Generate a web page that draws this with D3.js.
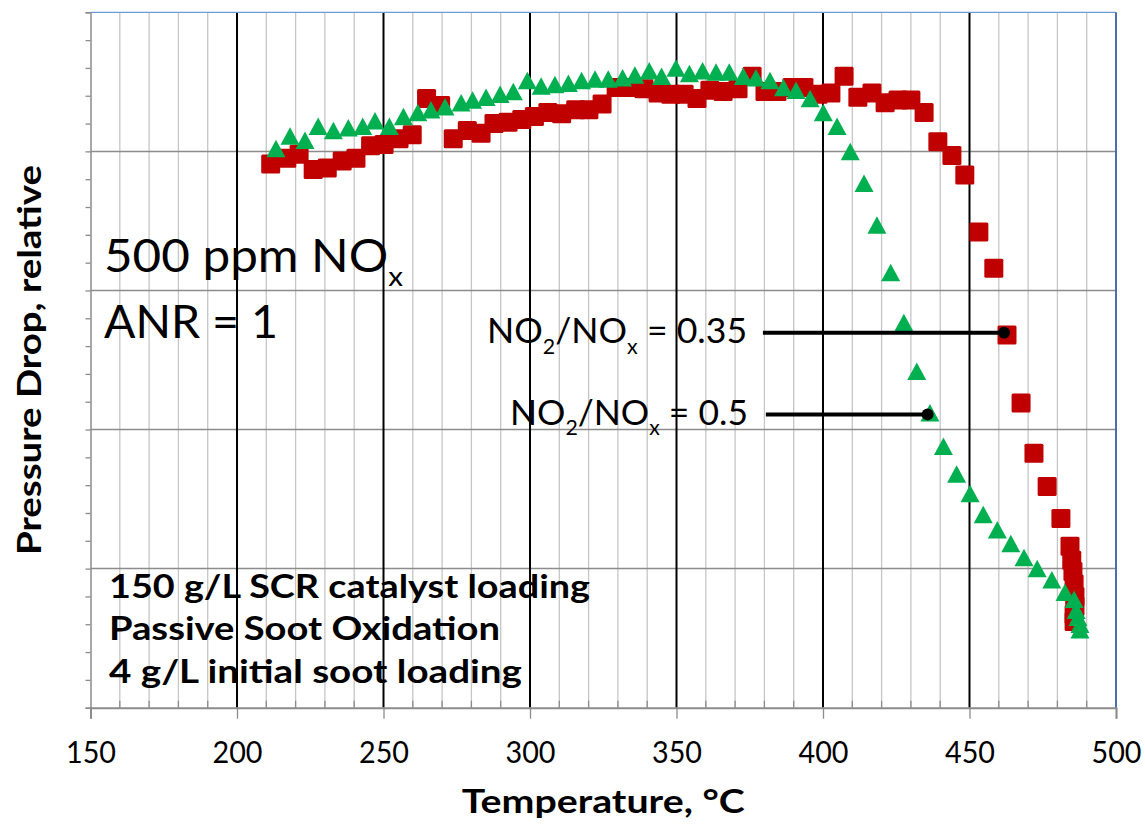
<!DOCTYPE html>
<html><head><meta charset="utf-8">
<script src="https://cdn.jsdelivr.net/npm/d3@7"></script>
<style>
body{margin:0;background:#fff}
svg{display:block}
text{font-family:Lato,'Open Sans',sans-serif;fill:#000}
</style>
</head><body>
<svg id="c" width="1145" height="824"></svg>
<script>
// ---------- data ----------
const xTicks = [150, 200, 250, 300, 350, 400, 450, 500];
const yMajorTicks = [0, 1, 2, 3, 4, 5];

// NO2/NOx = 0.35 (red squares)
const redTemp = [211.5,217.0,221.2,226.0,230.8,235.9,240.6,245.6,250.2,255.3,259.8,264.7,269.5,273.8,278.6,283.3,287.7,292.5,297.2,301.5,306.1,310.8,315.6,320.1,324.6,329.4,334.1,338.9,343.7,348.1,352.6,357.0,361.4,365.9,371.0,375.8,380.2,384.3,389.4,393.5,398.3,402.7,407.2,411.9,416.7,421.2,425.6,430.0,434.5,439.2,444.0,448.4,453.2,458.3,462.8,467.6,472.0,476.5,481.2,484.3,484.9,485.3,485.7,486.0,486.0,485.7,485.7];
const redDrop = [3.91,3.95,3.98,3.87,3.88,3.93,3.95,4.04,4.05,4.09,4.12,4.38,4.33,4.09,4.15,4.13,4.20,4.21,4.23,4.25,4.28,4.27,4.30,4.30,4.34,4.46,4.46,4.45,4.42,4.41,4.41,4.38,4.44,4.43,4.45,4.54,4.43,4.43,4.46,4.46,4.41,4.42,4.54,4.39,4.42,4.35,4.37,4.37,4.28,4.07,3.97,3.83,3.42,3.16,2.68,2.19,1.83,1.59,1.36,1.16,1.06,0.98,0.89,0.80,0.73,0.67,0.62];

// NO2/NOx = 0.5 (green triangles)
const greenTemp = [213.3,218.1,223.2,227.7,232.9,238.0,242.9,247.1,252.0,256.8,261.7,266.2,271.0,276.5,280.4,285.0,289.8,294.3,299.1,303.8,308.5,313.1,317.6,322.2,326.7,331.6,335.8,340.7,344.9,349.8,354.4,358.9,363.5,368.0,372.8,377.1,381.9,386.5,390.8,395.6,400.1,404.8,409.3,414.0,418.4,423.1,427.6,432.0,436.5,441.1,445.6,450.2,454.7,459.5,464.1,468.6,473.1,478.1,482.6,485.7,486.4,487.0,487.7,487.7];
const greenDrop = [4.02,4.11,4.08,4.18,4.15,4.17,4.18,4.22,4.18,4.25,4.28,4.30,4.32,4.35,4.37,4.39,4.41,4.43,4.51,4.47,4.48,4.49,4.51,4.52,4.52,4.53,4.55,4.58,4.54,4.60,4.56,4.58,4.57,4.57,4.54,4.53,4.51,4.46,4.44,4.38,4.28,4.18,4.00,3.77,3.47,3.13,2.77,2.42,2.12,1.88,1.68,1.54,1.39,1.28,1.18,1.08,1.00,0.92,0.83,0.78,0.70,0.65,0.60,0.56];

// annotations: label, where label ends, where line starts, dot position
const annoLabels = ["0.35", "0.5"];
const annoTextEnd = [374.1, 374.4];
const annoLineStart = [379.5, 380.5];
const annoDotTemp = [461.8, 435.7];
const annoDrop = [2.696, 2.109];

const infoLines = ["150 g/L SCR catalyst loading", "Passive Soot Oxidation", "4 g/L initial soot loading"];

// ---------- layout ----------
const L = 90.5, R = 1116, T = 12.3, B = 707.7;
const x = d3.scaleLinear().domain([150, 500]).range([L, R]);
const y = d3.scaleLinear().domain([0, 5]).range([B, T]);
const RED = "#C00000", GREEN = "#00B050";

const svg = d3.select("#c");
svg.append("rect").attr("width",1145).attr("height",824).attr("fill","#fff");

// keep font height, squeeze width to the reference width
function fitW(sel, target){
  sel.attr("textLength", target).attr("lengthAdjust", "spacingAndGlyphs");
}

const g = svg.append("g");

// minor vertical gridlines
const minorX = d3.range(160, 500, 10).filter(v => v % 50 !== 0);
g.selectAll(".vmin").data(minorX).join("line")
  .attr("x1", d=>x(d)).attr("x2", d=>x(d)).attr("y1", T).attr("y2", B)
  .attr("stroke", "#c6c6c6").attr("stroke-width", 1.3);

// horizontal major gridlines
g.selectAll(".hmaj").data(yMajorTicks.filter(v=>v>0 && v<5)).join("line")
  .attr("x1", L).attr("x2", R).attr("y1", d=>y(d)).attr("y2", d=>y(d))
  .attr("stroke", "#8c8c8c").attr("stroke-width", 1.5);

// major vertical gridlines (black)
g.selectAll(".vmaj").data(xTicks.filter(v=>v>150 && v<500)).join("line")
  .attr("x1", d=>x(d)).attr("x2", d=>x(d)).attr("y1", T).attr("y2", B)
  .attr("stroke", "#000").attr("stroke-width", 2);

// minor x ticks (inside)
g.selectAll(".xmt").data(minorX).join("line")
  .attr("x1", d=>x(d)).attr("x2", d=>x(d)).attr("y1", B-7).attr("y2", B)
  .attr("stroke", "#8c8c8c").attr("stroke-width", 1.3);

// top and right borders
g.append("line").attr("x1", L).attr("x2", R).attr("y1", T).attr("y2", T)
  .attr("stroke", "#6d9bd6").attr("stroke-width", 1.3);
g.append("line").attr("x1", R).attr("x2", R).attr("y1", T).attr("y2", B)
  .attr("stroke", "#4a6fae").attr("stroke-width", 2);

// y axis (no labels) with minor ticks
const yMinor = d3.range(0, 5.0001, 0.2).map(v=>+v.toFixed(1));
const yAx = svg.append("g").attr("transform", `translate(${L},0)`)
  .call(d3.axisLeft(y).tickValues(yMinor).tickSize(5).tickFormat(""));
yAx.select(".domain").attr("stroke", "#8c8c8c").attr("stroke-width", 1.5);
yAx.selectAll(".tick line").attr("stroke", "#8c8c8c").attr("stroke-width", 1.3);

// x axis
const xAx = svg.append("g").attr("transform", `translate(0,${B})`)
  .call(d3.axisBottom(x).tickValues(xTicks).tickSize(11).tickFormat(d3.format("d")));
xAx.select(".domain").attr("stroke", "#8c8c8c").attr("stroke-width", 2);
xAx.selectAll(".tick line").attr("stroke", "#8c8c8c").attr("stroke-width", 1.3);
xAx.selectAll(".tick text")
  .attr("y", 55).attr("dy", 0).attr("fill", "#000")
  .attr("font-family", "Lato, 'Open Sans', sans-serif").attr("font-size", 31)
  .attr("textLength", 50).attr("lengthAdjust", "spacingAndGlyphs");

// upper-left annotation
const t1 = svg.append("text").attr("x", 104).attr("y", 271.7).attr("font-size", 46);
t1.append("tspan").text("500 ppm NO");
t1.append("tspan").attr("font-size","0.6em").attr("dy","0.5em").text("x");
fitW(t1, 299);
const t2 = svg.append("text").attr("x", 104).attr("y", 338.3).attr("font-size", 46).text("ANR = 1");
fitW(t2, 174);

// bottom-left bold info lines
const infoBase = [597.7, 640, 683.3];
const infoW = [481, 391, 413];
infoLines.forEach((s,i)=>{
  const t = svg.append("text").attr("x", 109).attr("y", infoBase[i])
    .attr("font-size", 32.5).attr("font-weight", 700).text(s);
  fitW(t, infoW[i]);
});

// axis titles
const xt2 = svg.append("text").attr("x", (L+R)/2).attr("y", 813).attr("text-anchor","middle")
  .attr("font-size", 32.5).attr("font-weight", 700).text("Temperature, °C");
fitW(xt2, 283);
const yt = svg.append("text").attr("transform", `translate(41,${(T+B)/2}) rotate(-90)`)
  .attr("text-anchor","middle").attr("font-size", 32.5).attr("font-weight", 700)
  .text("Pressure Drop, relative");
fitW(yt, 390);

// red squares
const S = 19;
svg.append("g").selectAll("rect").data(redTemp.map((t,i)=>[t, redDrop[i]])).join("rect")
  .attr("x", d=>x(d[0]) - S/2).attr("y", d=>y(d[1]) - S/2)
  .attr("width", S).attr("height", S).attr("rx", 1.5)
  .attr("fill", RED);

// green triangles
const TW = 19, TH = 17.5;
svg.append("g").selectAll("path").data(greenTemp.map((t,i)=>[t, greenDrop[i]])).join("path")
  .attr("d", d=>{
    const cx = x(d[0]), cy = y(d[1]);
    return `M${cx},${cy-TH/2}L${cx+TW/2},${cy+TH/2}L${cx-TW/2},${cy+TH/2}Z`;
  })
  .attr("fill", GREEN);

// series annotations
annoLabels.forEach((lab,i)=>{
  const yy = y(annoDrop[i]);
  const t = svg.append("text").attr("x", x(annoTextEnd[i])).attr("y", yy + 10.5)
    .attr("text-anchor","end").attr("font-size", 35);
  t.append("tspan").text("NO");
  t.append("tspan").attr("font-size","0.6em").attr("dy","0.5em").text("2");
  t.append("tspan").attr("dy","-0.3em").text("/NO");
  t.append("tspan").attr("font-size","0.6em").attr("dy","0.5em").text("x");
  t.append("tspan").attr("dy","-0.3em").text(" = " + lab);
  fitW(t, i===0 ? 260 : 238);
  svg.append("line").attr("x1", x(annoLineStart[i])).attr("x2", x(annoDotTemp[i]))
    .attr("y1", yy).attr("y2", yy).attr("stroke", "#000").attr("stroke-width", 4);
  svg.append("circle").attr("cx", x(annoDotTemp[i])).attr("cy", yy).attr("r", 6).attr("fill", "#000");
});
</script>
</body></html>
